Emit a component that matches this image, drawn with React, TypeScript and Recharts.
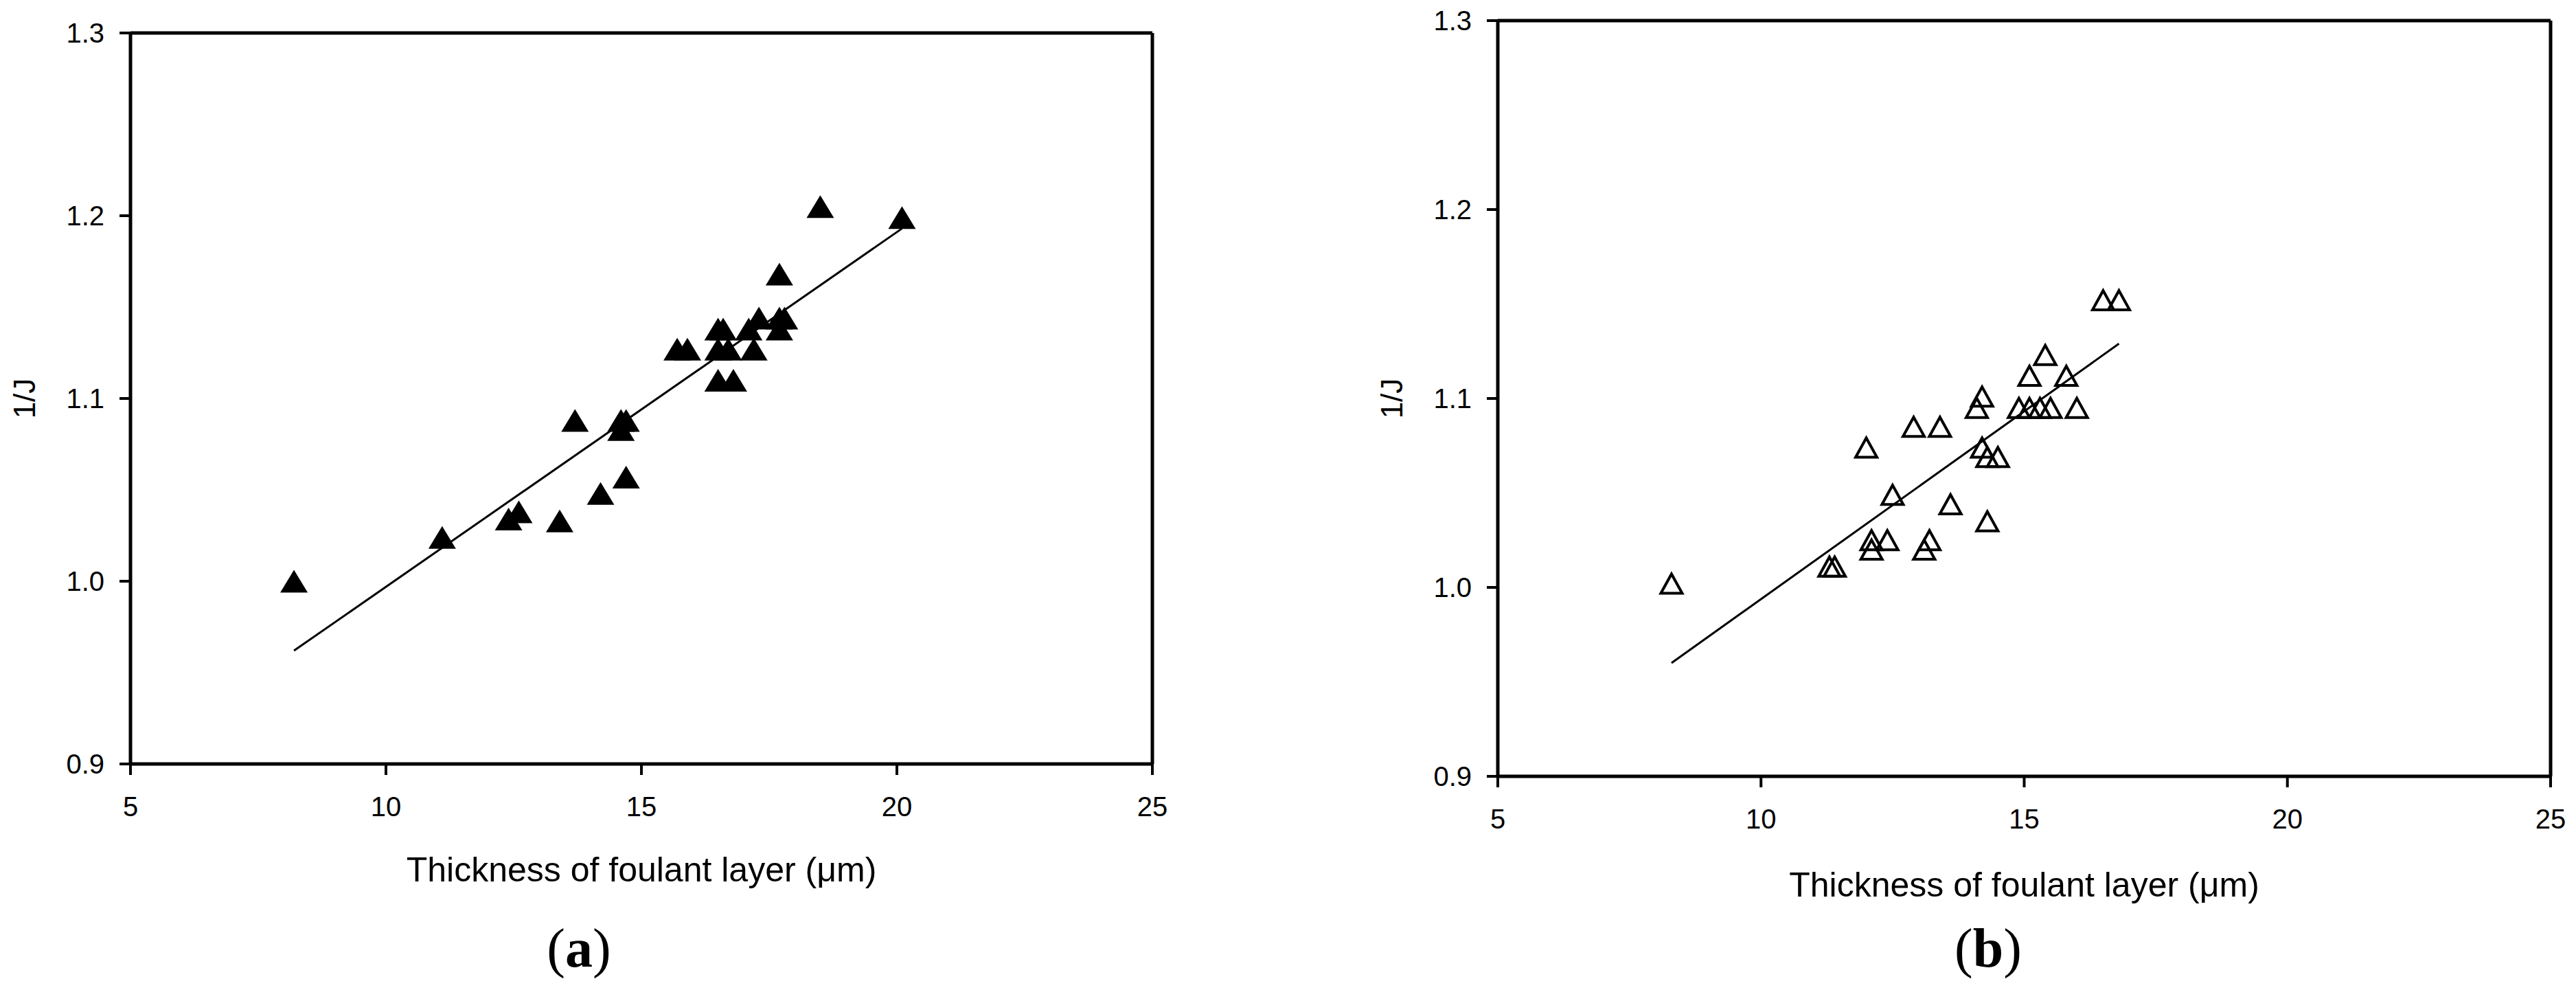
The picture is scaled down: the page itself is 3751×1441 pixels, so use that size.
import React from 'react';
import { ScatterChart, Scatter, XAxis, YAxis, ReferenceLine } from 'recharts';

const xTicks = [5, 10, 15, 20, 25];
const yTicks = [0.9, 1.0, 1.1, 1.2, 1.3];

// panel (a): filled triangles
const aThickness = [8.2, 11.1, 12.4, 12.6, 13.4, 13.7, 14.2, 14.6, 14.6, 14.7, 14.7, 15.7, 15.9, 16.5, 16.7, 17.2, 16.5, 16.6, 17.1, 17.3, 17.7, 17.7, 17.8, 17.7, 16.5, 16.8, 18.5, 20.1];
const aInvFlux = [1.0, 1.024, 1.034, 1.038, 1.033, 1.088, 1.048, 1.083, 1.088, 1.088, 1.057, 1.127, 1.127, 1.127, 1.127, 1.127, 1.138, 1.138, 1.138, 1.144, 1.138, 1.144, 1.144, 1.168, 1.11, 1.11, 1.205, 1.199];
const aFitX = [8.2, 20.1];
const aFitY = [0.962, 1.193];

// panel (b): open triangles
const bThickness = [8.3, 11.3, 11.4, 12.0, 12.1, 12.1, 12.4, 12.5, 12.9, 13.4, 13.2, 13.1, 13.6, 14.3, 14.2, 14.1, 14.2, 14.3, 14.5, 14.9, 15.1, 15.1, 15.3, 15.5, 15.4, 15.8, 16.0, 16.5, 16.8];
const bInvFlux = [1.002, 1.011, 1.011, 1.074, 1.025, 1.02, 1.025, 1.049, 1.085, 1.085, 1.025, 1.02, 1.044, 1.035, 1.101, 1.095, 1.074, 1.069, 1.069, 1.095, 1.112, 1.095, 1.095, 1.095, 1.123, 1.112, 1.095, 1.152, 1.152];
const bFitX = [8.3, 16.8];
const bFitY = [0.96, 1.129];

const FONT = "'Liberation Sans', Arial, sans-serif";

const FilledTri = (props: any) => {
  const { cx, cy } = props;
  return <path d={`M${cx},${cy - 16.5}L${cx + 20},${cy + 16.5}L${cx - 20},${cy + 16.5}Z`} fill="#000" />;
};

const OpenTri = (props: any) => {
  const { cx, cy } = props;
  return (
    <path
      d={`M${cx},${cy - 14}L${cx + 15.5},${cy + 14}L${cx - 15.5},${cy + 14}Z`}
      fill="none"
      stroke="#000"
      strokeWidth={4}
    />
  );
};

const xTitle = (dy: number) => (props: any) => {
  const { viewBox } = props;
  return (
    <text x={viewBox.x + viewBox.width / 2} y={viewBox.y + dy} textAnchor="middle" fontFamily={FONT} fontSize={50} fill="#000">
      Thickness of foulant layer (μm)
    </text>
  );
};

const yTitle = (cxOff: number) => (props: any) => {
  const { viewBox } = props;
  const cx = viewBox.x + cxOff;
  const cy = viewBox.y + viewBox.height / 2;
  return (
    <text x={cx} y={cy} transform={`rotate(-90 ${cx} ${cy})`} textAnchor="middle" dominantBaseline="central" fontFamily={FONT} fontSize={44} fill="#000">
      1/J
    </text>
  );
};

type PanelProps = {
  xs: number[];
  ys: number[];
  fitX: number[];
  fitY: number[];
  width: number;
  top: number;
  yAxisW: number;
  right: number;
  xAxisH: number;
  titleDy: number;
  yTitleX: number;
  shape: any;
};

const Panel = ({ xs, ys, fitX, fitY, width, top, yAxisW, right, xAxisH, titleDy, yTitleX, shape }: PanelProps) => {
  const pts = xs.map((x, i) => ({ x, y: ys[i] }));
  const tickStyle = { fill: '#000', fontSize: 40, fontFamily: FONT };
  return (
    <ScatterChart width={width} height={1441} margin={{ top, right, bottom: 0, left: 0 }}>
      <XAxis
        type="number"
        dataKey="x"
        domain={[5, 25]}
        ticks={xTicks}
        height={xAxisH}
        tickSize={16}
        tickMargin={32}
        axisLine={{ stroke: '#000', strokeWidth: 5 }}
        tickLine={{ stroke: '#000', strokeWidth: 4 }}
        tick={tickStyle}
        label={{ content: xTitle(titleDy) }}
      />
      <YAxis
        type="number"
        dataKey="y"
        domain={[0.9, 1.3]}
        ticks={yTicks}
        width={yAxisW}
        tickSize={16}
        tickMargin={22}
        tickFormatter={(v: number) => v.toFixed(1)}
        axisLine={{ stroke: '#000', strokeWidth: 5 }}
        tickLine={{ stroke: '#000', strokeWidth: 4 }}
        tick={tickStyle}
        label={{ content: yTitle(yTitleX) }}
      />
      <ReferenceLine y={1.3} stroke="#000" strokeWidth={5} />
      <ReferenceLine x={25} stroke="#000" strokeWidth={5} />
      <ReferenceLine
        segment={[{ x: fitX[0], y: fitY[0] }, { x: fitX[1], y: fitY[1] }]}
        stroke="#000"
        strokeWidth={3}
      />
      <Scatter data={pts} shape={shape} isAnimationActive={false} />
    </ScatterChart>
  );
};

export default function App() {
  return (
    <div style={{ position: 'absolute', left: 0, top: 0, width: 3751, height: 1441, background: '#fff', overflow: 'hidden' }}>
      <div style={{ position: 'absolute', left: 0, top: 0 }}>
        <Panel
          xs={aThickness} ys={aInvFlux} fitX={aFitX} fitY={aFitY}
          width={1760} top={48} yAxisW={190} right={82} xAxisH={329}
          titleDy={171} yTitleX={35} shape={FilledTri}
        />
      </div>
      <div style={{ position: 'absolute', left: 1880, top: 0 }}>
        <Panel
          xs={bThickness} ys={bInvFlux} fitX={bFitX} fitY={bFitY}
          width={1871} top={30} yAxisW={301} right={37} xAxisH={311}
          titleDy={175} yTitleX={146} shape={OpenTri}
        />
      </div>
      <svg width={3751} height={1441} style={{ position: 'absolute', left: 0, top: 0, pointerEvents: 'none' }}>
        <text x={843} y={1407} textAnchor="middle" fontFamily="'Liberation Serif', 'Times New Roman', serif" fontSize={80} fill="#000">
          (<tspan fontWeight="bold">a</tspan>)
        </text>
        <text x={2895} y={1407} textAnchor="middle" fontFamily="'Liberation Serif', 'Times New Roman', serif" fontSize={80} fill="#000">
          (<tspan fontWeight="bold">b</tspan>)
        </text>
      </svg>
    </div>
  );
}
